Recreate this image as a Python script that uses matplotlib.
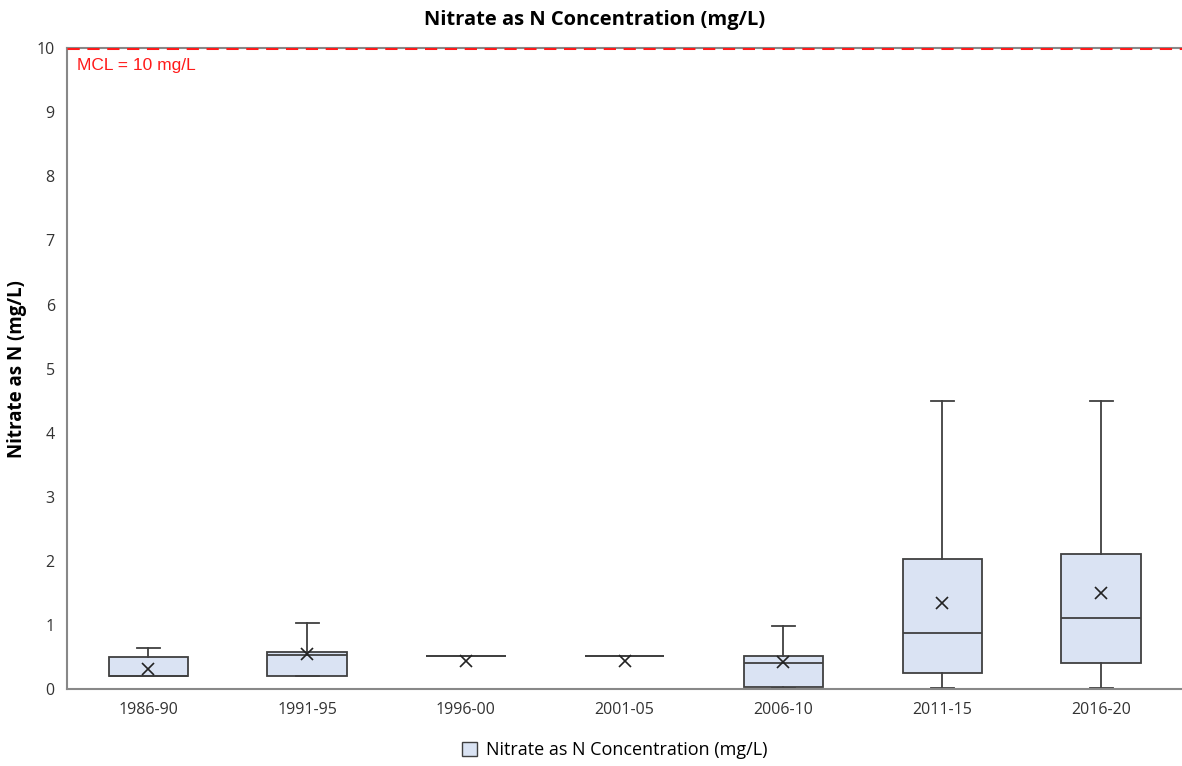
import matplotlib.pyplot as plt
from matplotlib.patches import Patch

plt.rcParams['font.family'] = ['Open Sans', 'DejaVu Sans']

# Box statistics (mg/L)
periods = ["1986-90", "1991-95", "1996-00", "2001-05", "2006-10", "2011-15", "2016-20"]
whisker_low = [0.20, 0.20, 0.51, 0.51, 0.01, 0.01, 0.01]
q1 = [0.20, 0.20, 0.51, 0.51, 0.03, 0.25, 0.41]
median = [0.20, 0.53, 0.51, 0.51, 0.40, 0.87, 1.11]
q3 = [0.50, 0.58, 0.51, 0.51, 0.51, 2.03, 2.10]
whisker_high = [0.64, 1.03, 0.51, 0.51, 0.98, 4.49, 4.49]
means = [0.31, 0.55, 0.43, 0.44, 0.42, 1.34, 1.50]
mcl = 10

fill = "#dae3f3"
edge = "#404040"

stats = []
for i, p in enumerate(periods):
    stats.append({"label": p, "whislo": whisker_low[i], "q1": q1[i], "med": median[i],
                  "q3": q3[i], "whishi": whisker_high[i], "mean": means[i], "fliers": []})

fig = plt.figure(figsize=(11.82, 7.66), dpi=100)
ax = fig.add_axes([0.057, 0.1005, 0.943, 0.8365])

ax.bxp(stats, positions=range(len(periods)), widths=0.5, capwidths=0.145,
       showmeans=True, patch_artist=True,
       boxprops=dict(facecolor=fill, edgecolor=edge, linewidth=1.3),
       medianprops=dict(color=edge, linewidth=1.3),
       whiskerprops=dict(color=edge, linewidth=1.3),
       capprops=dict(color=edge, linewidth=1.3),
       meanprops=dict(marker="x", markeredgecolor="#222222", markersize=9, markeredgewidth=1.2))

ax.axhline(mcl, color="#ff1a1a", linestyle=(0, (4, 2.5)), linewidth=2.2, zorder=5)
ax.text(0.009, 9.85, "MCL = 10 mg/L", transform=ax.get_yaxis_transform(), color="#ff1a1a",
        fontsize=12.5, ha="left", va="top", family=["Liberation Sans", "DejaVu Sans"])

ax.set_xlim(-0.51, len(periods) - 0.49)
ax.set_ylim(0, 10)
ax.set_yticks(range(0, 11))
ax.tick_params(axis="both", length=0, labelsize=11.5, colors="#333333")
ax.tick_params(axis="x", pad=9)
ax.tick_params(axis="y", pad=9)

ax.spines["right"].set_visible(False)
for s in ["left", "bottom", "top"]:
    ax.spines[s].set_color("#888888")
    ax.spines[s].set_linewidth(1.5)

ax.set_ylabel("Nitrate as N (mg/L)", fontsize=13.5, fontweight="bold", labelpad=7)
fig.suptitle("Nitrate as N Concentration (mg/L)", x=0.503, y=0.987, va="top",
             fontsize=14.5, fontweight="bold")

handle = Patch(facecolor=fill, edgecolor=edge, linewidth=1.0)
fig.legend([handle], ["Nitrate as N Concentration (mg/L)"], loc="lower center",
           bbox_to_anchor=(0.52, -0.012), frameon=False, fontsize=13,
           handlelength=0.8, handleheight=0.8, handletextpad=0.5)

fig.savefig("out.png", dpi=100)
